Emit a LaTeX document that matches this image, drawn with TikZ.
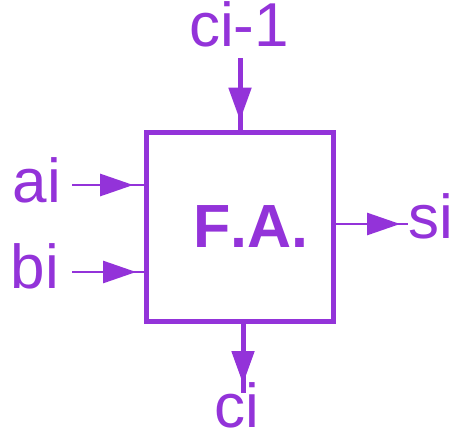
\documentclass[tikz,border=0pt]{standalone}
\usepackage{fontspec}
\setmainfont{Liberation Sans}[Kerning=Off]
\usetikzlibrary{arrows.meta}
\usetikzlibrary{decorations.markings}
\definecolor{faviolet}{HTML}{9333D9}
\tikzset{
  fabox/.style={
    draw=faviolet, line width=5pt, minimum width=187pt,
    minimum height=189pt, inner sep=0pt},
  fawire/.style={draw=faviolet, line width=2.6pt},
  fabus/.style={draw=faviolet, line width=5pt},
  fatip/.style={
    postaction={decorate},
    decoration={markings, mark=at position #1 with
      {\arrow{Triangle[length=33pt, width=22pt]}}}},
  fatip/.default=0.87,
  falabel/.style={
    anchor=base, inner sep=0pt, text=faviolet,
    text height=44pt, text depth=0pt,
    font=\fontsize{62}{70}\selectfont},
  fatitle/.style={
    anchor=base, inner sep=0pt, text=faviolet,
    text height=44pt, text depth=0pt,
    font=\bfseries\fontsize{61}{70}\selectfont},
}
\begin{document}
\begin{tikzpicture}[x=1pt, y=-1pt]
\useasboundingbox (0,0) rectangle (457,429);

% Full adder block.
\node[fabox] (fa) at (240,227) {};
\node[fatitle] (fatext) at (251,247) {F.A.};

% Signal labels.
\node[falabel] (cprev) at (239,46) {ci-1};
\node[falabel] (ain) at (37,202) {ai};
\node[falabel] (bin) at (35,288) {bi};
\node[falabel] (sout) at (431,238) {si};
\node[falabel] (cout) at (237,427) {ci};

% Free wire ends next to the labels.
\coordinate (cprevend) at (240,58);
\coordinate (ainend) at (72,185);
\coordinate (binend) at (72,272);
\coordinate (soutend) at (408,224);
\coordinate (coutend) at (243,393);

% Inputs and outputs.
\draw[fabus, fatip] (cprevend) -- (cprevend |- fa.north);
\draw[fawire, fatip=0.85] (ainend) -- (ainend -| fa.west);
\draw[fawire, fatip=0.89] (binend) -- (binend -| fa.west);
\draw[fawire, fatip=0.89] (soutend -| fa.east) -- (soutend);
\draw[fabus, fatip] (coutend |- fa.south) -- (coutend);

\end{tikzpicture}
\end{document}
